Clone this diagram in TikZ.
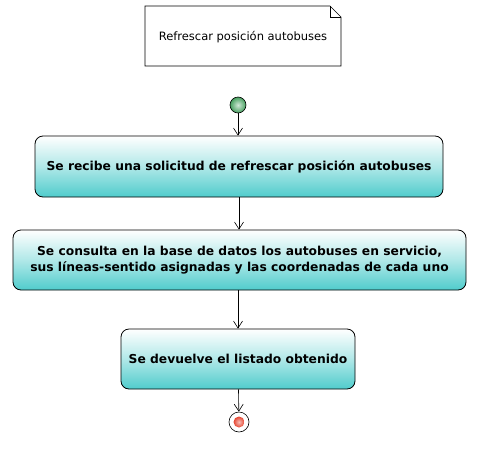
\documentclass[tikz,border=0pt]{standalone}
\usepackage{fontspec}
\setmainfont{DejaVu Sans}
\usetikzlibrary{arrows.meta,shapes.geometric}
\definecolor{boxcyan}{RGB}{80,204,204}
\definecolor{startgreen}{RGB}{70,160,95}
\definecolor{endred}{RGB}{230,70,50}
\tikzset{
  act/.style={draw=black, line width=0.8pt, rounded corners=8pt, top color=white, bottom color=boxcyan, middle color=boxcyan!45!white, font=\bfseries\fontsize{12.3}{16}\selectfont, align=center, inner sep=0pt},
  flow/.style={draw=black, line width=0.6pt, -{Straight Barb[length=7pt,width=9pt,line width=0.6pt]}},
}
\begin{document}
\begin{tikzpicture}[x=1pt,y=-1pt]
\useasboundingbox (0,0) rectangle (484,450);
% note
\draw[line width=0.6pt, fill=white] (145,6) -- (330,6) -- (341,17) -- (341,66) -- (145,66) -- cycle;
\draw[line width=0.6pt] (330,6) -- (330,17) -- (341,17);
\node[font=\fontsize{11.5}{14}\selectfont] (note) at (243,37) {Refrescar posición autobuses};
% start
\node[circle, draw=black, line width=0.6pt, minimum size=16pt, inner sep=0pt, inner color=startgreen!25!white, outer color=startgreen] (start) at (238,105) {};
% boxes
\node[act, minimum width=408pt, minimum height=61pt] (a1) at (239,166.5) {Se recibe una solicitud de refrescar posición autobuses};
\node[act, minimum width=453pt, minimum height=60pt] (a2) at (239.5,260) {Se consulta en la base de datos los autobuses en servicio,\\sus líneas-sentido asignadas y las coordenadas de cada uno};
\node[act, minimum width=234pt, minimum height=60pt] (a3) at (238,359) {Se devuelve el listado obtenido};
% end
\node[circle, draw=black, line width=0.6pt, fill=white, minimum size=20pt, inner sep=0pt] (end) at (239,422) {};
\node[circle, inner color=endred!35!white, outer color=endred, minimum size=11pt, inner sep=0pt] (endin) at (239,422) {};
% flows
\draw[flow] (start) -- (start|-a1.north);
\draw[flow] (a1) -- (a1|-a2.north);
\draw[flow] (a2.south-|a3) -- (a3);
\draw[flow] (a3) -- (end);
\end{tikzpicture}
\end{document}
